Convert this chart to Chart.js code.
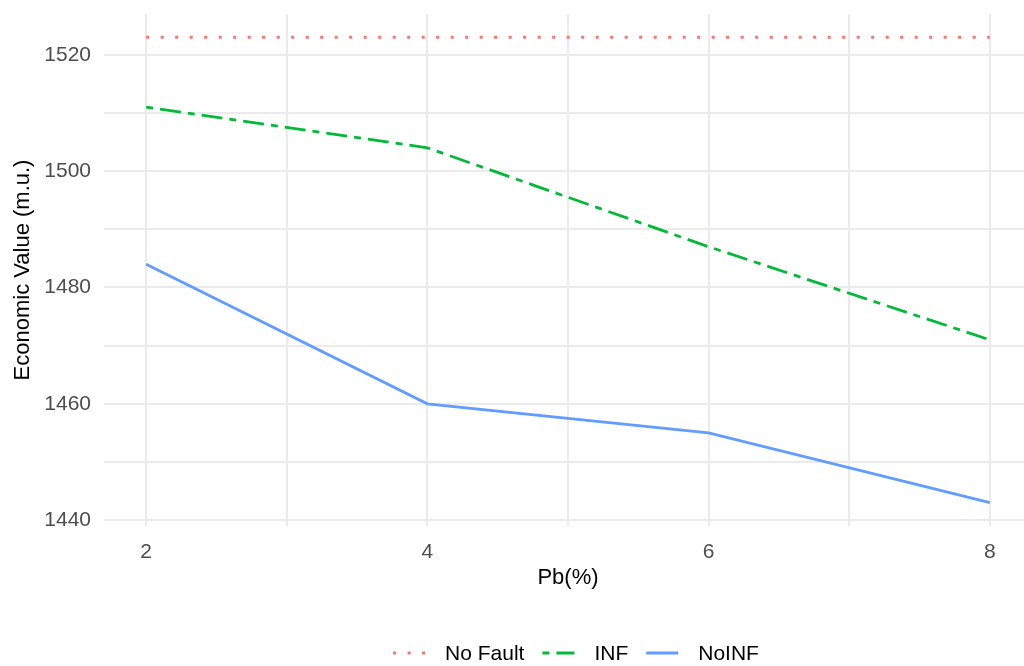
<!DOCTYPE html>
<html>
<head>
<meta charset="utf-8">
<title>Economic Value vs Pb(%)</title>
<script src="https://cdn.jsdelivr.net/npm/chart.js@4.4.0/dist/chart.umd.min.js"></script>
<style>
  html, body { margin: 0; padding: 0; background: #fff; overflow: hidden; }
  #wrap { width: 1024px; height: 666px; overflow: hidden; }
</style>
</head>
<body>
<div id="wrap"><canvas id="valueChart" width="1040" height="666"></canvas></div>
<script>
// Pb percentage levels (x axis)
const pbLevels = [2, 4, 6, 8];

// economic value (m.u.) for each scenario
const noFault = [1523, 1523, 1523, 1523];
const infValues = [1511, 1504, 1487, 1471];
const noInfValues = [1484, 1460, 1455, 1443];

// grid positions and the labels shown on them
const xGrid = [2, 3, 4, 5, 6, 7, 8];
const xLabels = [2, 4, 6, 8];
const yGrid = [1440, 1450, 1460, 1470, 1480, 1490, 1500, 1510, 1520];
const yLabels = [1440, 1460, 1480, 1500, 1520];

const FONT = '"Liberation Sans", Arial, sans-serif';
const GRID = '#EBEBEB';
const LEGEND_CENTER_X = 576;
const LEGEND_Y = 653;

function toPoints(values) {
    return pbLevels.map((x, i) => ({ x: x, y: values[i] }));
}

// legend under the plot: line sample + label, ggplot style
const bottomLegend = {
    id: 'bottomLegend',
    afterDraw(chart) {
        const ctx = chart.ctx;
        const sets = chart.data.datasets;
        const symW = 32, textGap = 20, itemGap = 18;
        ctx.save();
        ctx.font = '21px ' + FONT;
        const widths = sets.map(ds => ctx.measureText(ds.label).width);
        const total = widths.reduce((a, w) => a + symW + textGap + w, 0) + itemGap * (sets.length - 1);
        let x = LEGEND_CENTER_X - total / 2;
        sets.forEach((ds, i) => {
            ctx.beginPath();
            ctx.lineCap = 'butt';
            ctx.setLineDash(ds.borderDash || []);
            ctx.lineWidth = ds.borderWidth;
            ctx.strokeStyle = ds.borderColor;
            ctx.moveTo(x, LEGEND_Y);
            ctx.lineTo(x + symW, LEGEND_Y);
            ctx.stroke();
            ctx.setLineDash([]);
            x += symW + textGap;
            ctx.fillStyle = '#000';
            ctx.textBaseline = 'middle';
            ctx.textAlign = 'left';
            ctx.fillText(ds.label, x, LEGEND_Y + 1);
            x += widths[i] + itemGap;
        });
        ctx.restore();
    }
};

const ctx = document.getElementById('valueChart');
new Chart(ctx, {
    type: 'line',
    data: {
        datasets: [
            {
                label: 'No Fault',
                data: toPoints(noFault),
                borderColor: '#F8766D',
                borderWidth: 3,
                borderDash: [3, 11.5]
            },
            {
                label: 'INF',
                data: toPoints(infValues),
                borderColor: '#00BA38',
                borderWidth: 2.8,
                borderDash: [7, 7, 21, 7]
            },
            {
                label: 'NoINF',
                data: toPoints(noInfValues),
                borderColor: '#619CFF',
                borderWidth: 2.8
            }
        ]
    },
    options: {
        responsive: false,
        animation: false,
        devicePixelRatio: 1,
        layout: { padding: { top: 14, right: 8, bottom: 70, left: 0 } },
        elements: {
            point: { radius: 0, hoverRadius: 0 },
            line: { tension: 0, borderCapStyle: 'butt', fill: false }
        },
        plugins: {
            legend: { display: false },
            tooltip: { enabled: false }
        },
        scales: {
            x: {
                type: 'linear',
                min: 1.7,
                max: 8.3,
                afterBuildTicks: s => { s.ticks = xGrid.map(v => ({ value: v })); },
                afterFit: s => {
                    s.height = 70;
                    s.paddingLeft = 0;
                    s.paddingRight = 0;
                },
                border: { display: false },
                grid: { color: GRID, lineWidth: 2, drawTicks: false },
                ticks: {
                    autoSkip: false,
                    maxRotation: 0,
                    padding: 14,
                    color: '#4D4D4D',
                    font: { family: FONT, size: 21 },
                    callback: v => xLabels.includes(v) ? String(v) : ''
                },
                title: {
                    display: true,
                    text: 'Pb(%)',
                    color: '#000',
                    font: { family: FONT, size: 22 },
                    padding: { top: 0, bottom: 5 }
                }
            },
            y: {
                min: 1439,
                max: 1527,
                afterBuildTicks: s => { s.ticks = yGrid.map(v => ({ value: v })); },
                afterFit: s => {
                    s.width = 104;
                    s.paddingTop = 0;
                    s.paddingBottom = 0;
                },
                border: { display: false },
                grid: { color: GRID, lineWidth: 2, drawTicks: false },
                ticks: {
                    autoSkip: false,
                    padding: 13,
                    color: '#4D4D4D',
                    font: { family: FONT, size: 21 },
                    callback: v => yLabels.includes(v) ? String(v) : ''
                },
                title: {
                    display: true,
                    text: 'Economic Value (m.u.)',
                    color: '#000',
                    font: { family: FONT, size: 22 },
                    padding: { top: 10, bottom: 0 }
                }
            }
        }
    },
    plugins: [bottomLegend]
});
</script>
</body>
</html>
